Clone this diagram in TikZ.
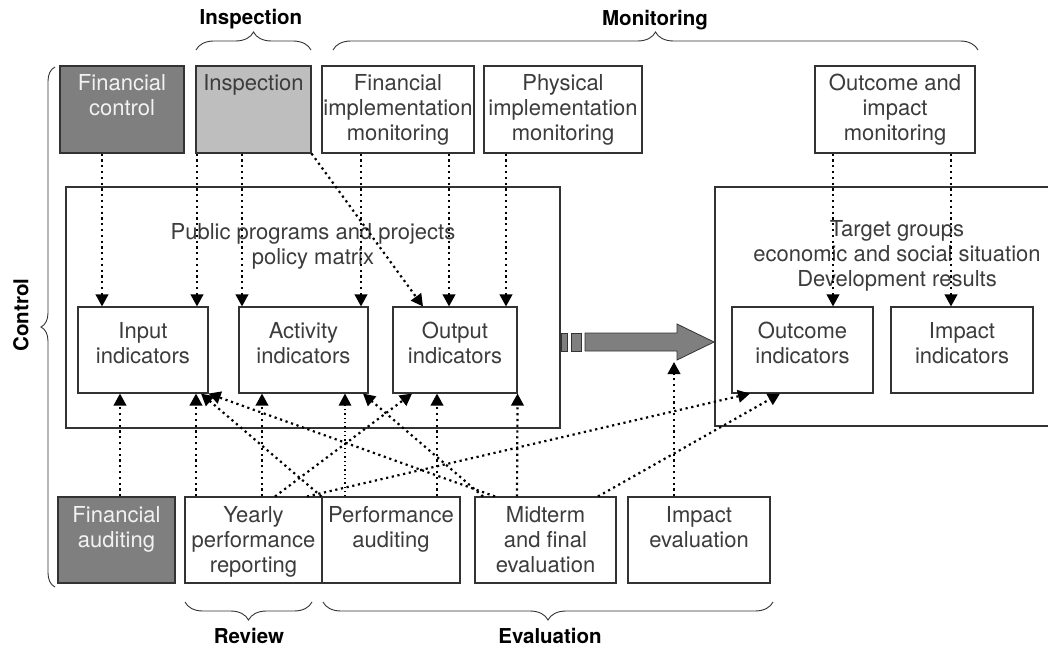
\documentclass[tikz,border=0pt]{standalone}
\usepackage{fontspec}
\setmainfont{TeX Gyre Heros}
\usetikzlibrary{arrows.meta,decorations.pathreplacing}
\definecolor{Ink}{HTML}{3C3C3C}
\definecolor{Line}{HTML}{333333}
\definecolor{DarkFill}{HTML}{7F7F7F}
\definecolor{LightFill}{HTML}{BEBEBE}
\definecolor{DarkText}{HTML}{F2F2F2}
\newcommand{\fs}{\fontsize{22}{25}\selectfont}
\newcommand{\cell}[4]{\parbox[c][#2pt][t]{#1pt}{\centering\vspace*{#3pt}\strut#4\par}}
\tikzset{
  box/.style={draw=Line,line width=1.1pt,fill=white,inner sep=0pt,text=Ink,font=\fs},
  darkbox/.style={box,fill=DarkFill,text=DarkText},
  lightbox/.style={box,fill=LightFill},
  link/.style={line width=2.2pt,dash pattern=on 2.2pt off 3.6pt,-{Triangle[width=12.5pt,length=12pt]}},
  thinlink/.style={link,line width=1.3pt,dash pattern=on 1.3pt off 3pt},
  brc/.style={decorate,decoration={brace,amplitude=#1},line width=0.9pt,draw=Line},
  head/.style={font=\fontsize{20.5}{24}\selectfont\bfseries,text=black}
}
\begin{document}
\begin{tikzpicture}[x=1pt,y=-1pt]
\useasboundingbox[fill=white] (0,0) rectangle (1048,647);
% group braces
\draw[brc=18pt] (196,50)--(311,50);\node[head] (lbinsp) at (251,19){Inspection};
\draw[brc=18pt] (333,50)--(978,50);\node[head] (lbmon) at (655,20){Monitoring};
\draw[brc=14pt] (55,587)--(55,67);\node[head,rotate=90] (lbctl) at (21,315){Control};
\draw[brc=18pt] (312,602)--(185,602);\node[head] (lbrev) at (249,636){Review};
\draw[brc=18pt] (773,602)--(323,602);\node[head] (lbeval) at (550,636){Evaluation};
% programme and results frames
\node[box] (pol) at (313,307.5){\cell{494}{241}{34.5}{Public programs and projects\\policy matrix}};
\node[box] (res) at (897,306.5){\cell{364}{239}{31.5}{Target groups\\economic and social situation\\Development results}};
% top row
\node[darkbox] (fc) at (122,109.5){\cell{124}{87}{7.5}{Financial\\control}};
\node[lightbox] (insp) at (253.5,109.5){\cell{115}{87}{7.5}{Inspection}};
\node[box] (fim) at (398,109.5){\cell{152}{87}{7.5}{Financial\\implementation\\monitoring}};
\node[box] (pim) at (563,109.5){\cell{158}{87}{7.5}{Physical\\implementation\\monitoring}};
\node[box] (oim) at (895,109.5){\cell{160}{87}{7.5}{Outcome and\\impact\\monitoring}};
% indicators
\node[box] (inp) at (143,350){\cell{130}{86}{13.5}{Input\\indicators}};
\node[box] (act) at (303.5,350){\cell{129}{86}{13.5}{Activity\\indicators}};
\node[box] (outp) at (455,350){\cell{124}{86}{13.5}{Output\\indicators}};
\node[box] (outc) at (802.5,350){\cell{141}{86}{13.5}{Outcome\\indicators}};
\node[box] (impi) at (962,350){\cell{142}{86}{13.5}{Impact\\indicators}};
% bottom row
\node[darkbox] (fa) at (116.5,540){\cell{117}{86}{7.5}{Financial\\auditing}};
\node[box] (ypr) at (253.5,540){\cell{137}{86}{7.5}{Yearly\\performance\\reporting}};
\node[box] (pa) at (391,540){\cell{138}{86}{7.5}{Performance\\auditing}};
\node[box] (mfe) at (545.5,540){\cell{141}{86}{7.5}{Midterm\\and final\\evaluation}};
\node[box] (ie) at (699,540){\cell{142}{86}{7.5}{Impact\\evaluation}};
% big arrow
\filldraw[fill=DarkFill,draw=Line,line width=0.8pt] (561,333) rectangle (567,351) (571,333) rectangle (581,351);
\filldraw[fill=DarkFill,draw=Line,line width=0.8pt] (585,333)--(677,333)--(677,324)--(714,342)--(677,360)--(677,351)--(585,351)--cycle;
\coordinate (arrlow) at (674,362);
% control and monitoring links
\draw[link] ([xshift=-20pt]fc.south)--([xshift=-41pt]inp.north);
\draw[link] ([xshift=-56.5pt]insp.south)--([xshift=54pt]inp.north);
\draw[link] ([xshift=-11.5pt]insp.south)--([xshift=-61.5pt]act.north);
\draw[link] ([xshift=-37pt]fim.south)--([xshift=57.5pt]act.north);
\draw[link] (insp.south east)--([xshift=-32pt]outp.north);
\draw[link] ([xshift=51pt]fim.south)--([xshift=-6pt]outp.north);
\draw[link] ([xshift=-57pt]pim.south)--([xshift=51pt]outp.north);
\draw[link] ([xshift=-62pt]oim.south)--([xshift=30.5pt]outc.north);
\draw[link] ([xshift=56pt]oim.south)--([xshift=-11pt]impi.north);
% auditing, review and evaluation links
\draw[link] ([xshift=3.5pt]fa.north)--([xshift=-23pt]inp.south);
\draw[link] ([xshift=-57.5pt]ypr.north)--([xshift=53pt]inp.south);
\draw[link] (pa.north west)--([xshift=58pt]inp.south);
\draw[link] ([xshift=-50.5pt]mfe.north)--(inp.south east);
\draw[link] ([xshift=8.5pt]ypr.north)--([xshift=-41.5pt]act.south);
\draw[thinlink] ([xshift=-46pt]pa.north)--([xshift=41.5pt]act.south);
\draw[link] ([xshift=-62.5pt]mfe.north)--([xshift=59.5pt]act.south);
\draw[link] ([xshift=21.5pt]ypr.north)--([xshift=-43pt]outp.south);
\draw[link] ([xshift=46pt]pa.north)--([xshift=-18pt]outp.south);
\draw[link] ([xshift=-28.5pt]mfe.north)--(outp.south east);
\draw[link] ([xshift=53.5pt]ypr.north)--([xshift=-52.5pt]outc.south);
\draw[link] ([xshift=52.5pt]mfe.north)--([xshift=-22.5pt]outc.south);
\draw[link] ([xshift=-25pt]ie.north)--(arrlow);
\end{tikzpicture}
\end{document}
